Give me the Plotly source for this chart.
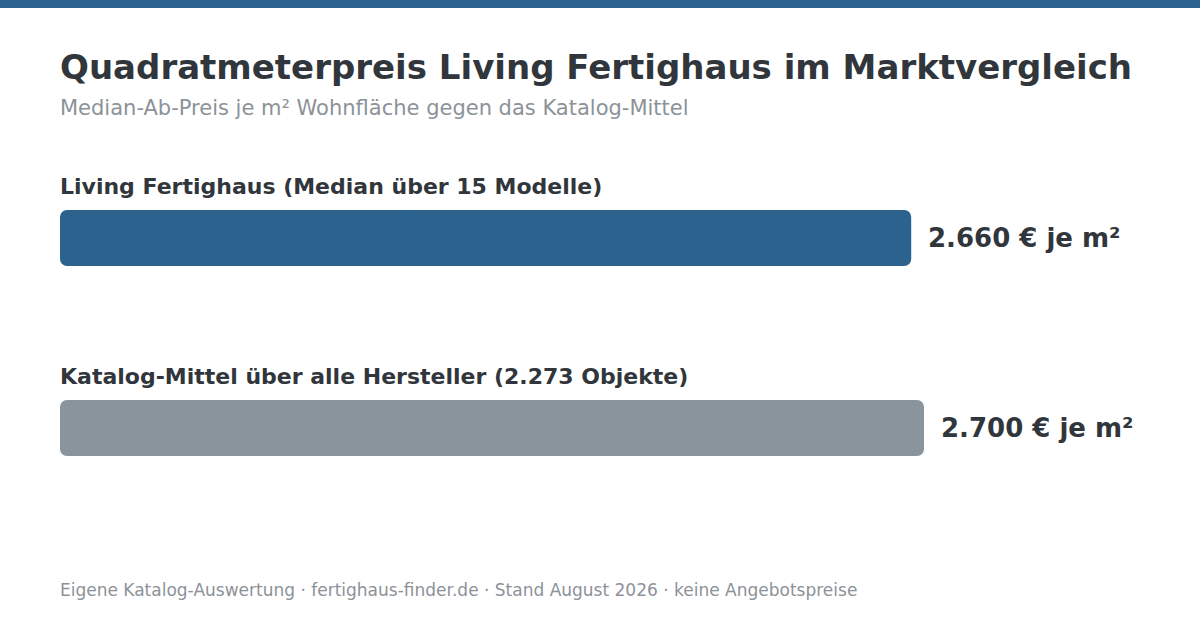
import plotly.graph_objects as go

# data
categories = ["Living Fertighaus (Median über 15 Modelle)",
              "Katalog-Mittel über alle Hersteller (2.273 Objekte)"]
values = [2660, 2700]
value_labels = ["2.660 € je m²", "2.700 € je m²"]
bar_colors = ["#2b628e", "#8a949c"]

TEXT = "#30363b"
GREY = "#8c9298"
FONT = "DejaVu Sans"

positions = list(range(len(categories)))

# each bar is drawn as two overlapping pieces so both ends get rounded corners
left_end = [v * 0.6 for v in values]
right_start = [v * 0.4 for v in values]

# 190 px per category step, bar edges on whole pixels
PX = 190.0
bar_style = dict(orientation="h", width=56 / PX, hoverinfo="skip", y=positions)

fig = go.Figure()
fig.add_trace(go.Bar(
    x=[-e for e in left_end], base=left_end,
    marker=dict(color=bar_colors, cornerradius=7, line=dict(width=0)), **bar_style))
fig.add_trace(go.Bar(
    x=[v - s for v, s in zip(values, right_start)], base=right_start,
    marker=dict(color=bar_colors, cornerradius=7, line=dict(width=0)), **bar_style))

# category labels above bars, value labels right of bars
annotations = []
for pos, cat, val, lab in zip(positions, categories, values, value_labels):
    annotations.append(dict(x=0, y=pos, xref="x", yref="y", text="<b>%s</b>" % cat,
                            xanchor="left", yanchor="middle", xshift=-2, yshift=52,
                            showarrow=False,
                            font=dict(size=22, color=TEXT, family=FONT)))
    annotations.append(dict(x=val, y=pos, xref="x", yref="y", text="<b>%s</b>" % lab,
                            xanchor="left", yanchor="middle", xshift=15, showarrow=False,
                            font=dict(size=26, color=TEXT, family=FONT)))

annotations.append(dict(x=0, y=1.1135, xref="paper", yref="paper", xshift=-2,
                        text="Median-Ab-Preis je m² Wohnfläche gegen das Katalog-Mittel",
                        xanchor="left", yanchor="middle", showarrow=False,
                        font=dict(size=21, color=GREY, family=FONT)))
annotations.append(dict(x=0, y=-0.189, xref="paper", yref="paper", xshift=-2,
                        text="Eigene Katalog-Auswertung · fertighaus-finder.de · Stand August 2026 · keine Angebotspreise",
                        xanchor="left", yanchor="middle", showarrow=False,
                        font=dict(size=17, color=GREY, family=FONT)))

fig.update_layout(
    width=1200, height=630,
    margin=dict(l=60, r=60, t=150, b=110),
    paper_bgcolor="white", plot_bgcolor="white",
    showlegend=False,
    barmode="overlay",
    title=dict(text="<b>Quadratmeterpreis Living Fertighaus im Marktvergleich</b>",
               x=0, xref="paper", xanchor="left",
               y=1 - 67 / 630, yref="container", yanchor="middle",
               font=dict(size=34, color=TEXT, family=FONT)),
    xaxis=dict(range=[0, 3375], visible=False, fixedrange=True),
    yaxis=dict(range=[282 / PX, -88 / PX], visible=False, fixedrange=True),
    annotations=annotations,
    shapes=[dict(type="rect", xref="paper", yref="paper",
                 x0=-0.1, x1=1.1, y0=1.3838, y1=1.42,
                 fillcolor="#2b628e", line=dict(width=0), layer="above")],
)

fig.write_html("out.html", config={"displayModeBar": False},
               post_script="document.body.style.margin='0';")
